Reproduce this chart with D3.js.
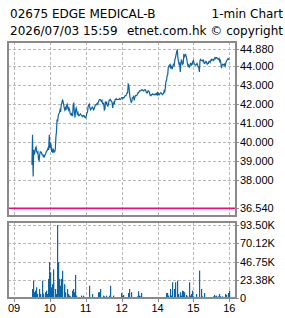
<!DOCTYPE html>
<html lang="en">
<head>
<meta charset="UTF-8">
<title>02675 1-min Chart</title>
<script src="https://d3js.org/d3.v7.min.js"></script>
<style>
    body { margin: 0; padding: 0; background: #fff; overflow: hidden; }
    svg { display: block; }
    text { font-family: "Liberation Sans", Arial, sans-serif; font-size: 11px; fill: #000; }
    .head { font-family: "DejaVu Sans", Verdana, sans-serif; font-size: 12px; }
</style>
</head>
<body>
<svg id="chart" width="285" height="318"></svg>
<script>
const titleLeft = "02675 EDGE MEDICAL-B";
const titleRight = "1-min Chart";
const stampLeft = "2026/07/03 15:59";
const stampRight = "etnet.com.hk \u00a9 copyright";

const prevClose = 36.54;

// 09:30 .. 12:00, one per minute
const amPrices = [
    38.82, 40.40, 38.20, 39.60, 39.35, 39.50, 39.70, 39.75, 39.50, 39.45,
    39.50, 39.10, 39.05, 39.35, 39.50, 39.50, 39.45, 39.35, 39.35, 39.25,
    39.30, 39.25, 39.35, 39.40, 39.50, 39.55, 39.60, 39.70, 39.60, 40.40,
    39.70, 40.00, 39.85, 39.50, 39.60, 39.45, 39.60, 39.50, 39.50, 39.60,
    40.25, 40.55, 41.20, 41.10, 41.40, 41.50, 41.55, 41.70, 41.60, 41.95,
    42.05, 42.25, 42.15, 42.00, 41.80, 41.70, 41.80, 41.70, 41.95, 42.00,
    41.80, 41.70, 41.80, 41.70, 41.50, 41.45, 41.50, 41.40, 41.40, 42.00,
    42.05, 41.55, 41.30, 41.70, 41.80, 41.65, 41.45, 41.55, 41.40, 41.40,
    41.45, 41.50, 41.45, 41.40, 41.40, 41.35, 41.40, 41.40, 41.35, 41.30,
    41.30, 41.40, 41.55, 41.60, 41.90, 41.95, 42.00, 41.80, 41.70, 41.75,
    41.80, 41.85, 41.80, 41.70, 41.75, 41.85, 41.95, 41.95, 42.00, 42.05,
    42.00, 42.10, 42.20, 42.25, 42.25, 42.20, 42.15, 42.20, 42.05, 42.00,
    42.05, 41.70, 41.75, 42.10, 42.05, 42.10, 41.95, 41.90, 42.00, 42.20,
    42.20, 42.25, 42.20, 42.15, 42.10, 41.80, 42.00, 42.10, 42.05, 42.25,
    42.25, 42.30, 42.25, 42.25, 42.25, 42.25, 42.30, 42.25, 42.25, 42.30,
    42.35
];

// 13:01 .. 16:00, one per minute
const pmPrices = [
    42.35, 42.30, 42.35, 42.35, 42.40, 42.45, 42.45, 42.50, 42.60, 42.60,
    43.05, 43.00, 42.65, 42.35, 42.20, 42.10, 42.15, 42.35, 42.35, 42.40,
    42.20, 42.35, 42.45, 42.45, 42.45, 42.50, 42.60, 42.60, 42.65, 42.70,
    42.70, 42.70, 42.75, 42.75, 42.75, 42.70, 42.70, 42.75, 42.75, 42.75,
    42.65, 42.60, 42.60, 42.70, 42.70, 42.65, 42.55, 42.45, 42.45, 42.50,
    42.50, 42.55, 42.50, 42.50, 42.50, 42.55, 42.50, 42.55, 42.50, 42.65,
    42.50, 42.55, 42.50, 42.55, 42.60, 42.60, 42.55, 42.50, 42.55, 42.55,
    42.70, 42.65, 42.85, 43.20, 43.25, 43.50, 43.55, 43.95, 44.00, 44.05,
    43.95, 44.05, 43.90, 43.95, 43.90, 44.05, 44.10, 44.05, 44.35, 44.45,
    44.60, 44.75, 44.88, 44.45, 44.25, 44.10, 44.15, 43.70, 44.10, 44.35,
    44.20, 44.10, 44.15, 44.65, 44.50, 44.55, 44.60, 44.50, 44.35, 44.15,
    44.00, 44.05, 43.95, 44.00, 44.15, 44.15, 44.05, 44.10, 44.25, 44.30,
    44.15, 44.10, 44.05, 44.05, 44.10, 44.15, 44.05, 43.95, 43.95, 43.70,
    44.30, 44.35, 44.30, 44.30, 44.30, 44.25, 44.30, 44.15, 44.15, 44.20,
    44.25, 44.20, 44.10, 44.15, 44.15, 44.25, 44.25, 44.20, 44.30, 44.35,
    44.30, 44.35, 44.35, 44.30, 44.40, 44.45, 44.40, 44.45, 44.45, 44.40,
    44.40, 44.35, 44.40, 44.25, 44.30, 44.15, 43.90, 44.05, 44.10, 44.10,
    44.05, 44.10, 44.00, 44.15, 44.25, 44.30, 44.35, 44.40, 44.35, 44.40
];

const volTimes = [
    "09:30","09:32","09:33","09:35","09:37","09:39","09:41","09:43","09:46","09:47",
    "09:49","09:51","09:53","09:56","09:57","09:58","09:59","10:01","10:02","10:03",
    "10:05","10:06","10:08","10:10","10:12","10:13","10:15","10:17","10:18","10:19",
    "10:21","10:23","10:24","10:26","10:28","10:30","10:32","10:34","10:37","10:39",
    "10:41","10:42","10:44","10:47","10:49","10:52","10:55","10:59","11:02","11:05",
    "11:07","11:10","11:12","11:14","11:17","11:20","11:22","11:23","11:26","11:28",
    "11:31","11:34","11:37","11:39","11:41","11:43","11:46","11:48","11:51","11:56",
    "11:59","13:01","13:03","13:05","13:10","13:13","13:15","13:17","13:20","13:23",
    "13:26","13:27","13:29","13:31","13:33","13:35","13:38","13:43","13:47","13:49",
    "13:54","13:58","14:01","14:03","14:12","14:14","14:15","14:17","14:19","14:21",
    "14:23","14:25","14:27","14:28","14:30","14:32","14:34","14:35","14:38","14:39",
    "14:41","14:43","14:44","14:47","14:49","14:52","14:54","14:56","14:58","15:00",
    "15:02","15:04","15:07","15:09","15:10","15:13","15:15","15:17","15:20","15:24",
    "15:28","15:32","15:34","15:36","15:38","15:41","15:42","15:45","15:47","15:50",
    "15:53","15:55","15:57","15:59"
];
const volumes = [
    11900, 22500, 7700, 9800, 14000, 5500, 11900, 5500, 7700, 22500,
    5500, 7700, 9800, 5500, 24700, 14000, 46000, 33000, 14000, 18000,
    20000, 37000, 11900, 5500, 93500, 46000, 24700, 16000, 18000, 24700,
    35000, 16000, 18000, 7700, 11900, 5500, 3400, 2500, 9800, 11900,
    7700, 29800, 3400, 1300, 1300, 3400, 3400, 1300, 1300, 16000,
    1300, 5500, 1300, 1300, 1300, 7700, 7700, 11900, 1300, 3400,
    2500, 3400, 1300, 3400, 16000, 1300, 3400, 1300, 1300, 1300,
    6800, 3400, 4300, 1300, 6800, 11900, 7700, 1300, 1300, 1300,
    2500, 9000, 3400, 2500, 6800, 1300, 1300, 1300, 1300, 1300,
    1300, 1300, 1300, 1300, 1300, 6800, 6800, 3400, 1300, 11900,
    3400, 20400, 3400, 11900, 20400, 22500, 3400, 5500, 7700, 3400,
    9800, 9000, 7700, 4300, 2500, 20400, 3400, 5500, 9800, 2500,
    1300, 5500, 1300, 35300, 1300, 11900, 2500, 6800, 1300, 1300,
    1300, 2500, 4300, 2500, 3400, 2500, 5500, 2500, 2500, 1300,
    5500, 4300, 6800, 9800
];

const hourTimes = ["09:00", "10:00", "11:00", "12:00", "14:00", "15:00", "16:00"];
const hourLabels = ["09", "10", "11", "12", "14", "15", "16"];
const priceTicks = [38, 39, 40, 41, 42, 43, 44, 44.88];
const priceTickLabels = ["38.000", "39.000", "40.000", "41.000", "42.000", "43.000", "44.000", "44.880"];
const volTicks = [0, 23375, 46750, 70125, 93500];
const volTickLabels = ["0", "23.38K", "46.75K", "70.12K", "93.50K"];

// minutes of trading since 09:30, lunch hour removed
function tradeMin(s) {
    const [h, m] = s.split(":").map(Number);
    const mins = h * 60 + m;
    return mins <= 720 ? mins - 570 : mins - 630;
}
function pad(n) { return (n < 10 ? "0" : "") + n; }

const prices = [];
amPrices.forEach((p, i) => {
    const mm = 570 + i;
    prices.push({time: pad(Math.floor(mm / 60)) + ":" + pad(mm % 60), price: p});
});
pmPrices.forEach((p, i) => {
    const mm = 781 + i;
    prices.push({time: pad(Math.floor(mm / 60)) + ":" + pad(mm % 60), price: p});
});
const vols = volTimes.map((t, i) => ({time: t, vol: volumes[i]}));

const svg = d3.select("#chart");
const blue = "#0b64a6";
const frame = "#8a8a8a";
const grid = "#b8b8b8";

const priceBox = {x: 8, y: 42, w: 228, h: 174};
const volBox = {x: 8, y: 222, w: 228, h: 76};

const x = d3.scaleLinear().domain([tradeMin("09:00"), tradeMin("16:00")]).range([14, 229.3]);
const yP = d3.scaleLinear()
    .domain([prevClose, d3.max(prices, d => d.price)])
    .range([208.2, 49.4]);
const yV = d3.scaleLinear().domain([0, d3.max(volumes)]).range([298.3, 225]);

const crisp = v => Math.round(v) + 0.5;

// header
svg.append("text").attr("class", "head").attr("x", 10).attr("y", 18).text(titleLeft);
svg.append("text").attr("class", "head").attr("x", 283).attr("y", 18).attr("text-anchor", "end").text(titleRight);
svg.append("text").attr("class", "head").attr("x", 10).attr("y", 35).text(stampLeft);
svg.append("text").attr("class", "head").attr("x", 283).attr("y", 35).attr("text-anchor", "end").text(stampRight);

function gridLayer(box, yTicks, yScale) {
    const g = svg.append("g")
        .attr("stroke", grid)
        .attr("stroke-width", 1)
        .attr("stroke-dasharray", "3,2");
    g.selectAll(".v").data(hourTimes).enter().append("line")
        .attr("x1", d => crisp(x(tradeMin(d))))
        .attr("x2", d => crisp(x(tradeMin(d))))
        .attr("y1", box.y)
        .attr("y2", box.y + box.h);
    g.selectAll(".h").data(yTicks).enter().append("line")
        .attr("x1", box.x)
        .attr("x2", box.x + box.w)
        .attr("y1", d => crisp(yScale(d)))
        .attr("y2", d => crisp(yScale(d)));
}

gridLayer(priceBox, priceTicks, yP);
gridLayer(volBox, volTicks.slice(1), yV);

// previous close
svg.append("line")
    .attr("x1", priceBox.x).attr("x2", priceBox.x + priceBox.w)
    .attr("y1", yP(prevClose)).attr("y2", yP(prevClose))
    .attr("stroke", "#ff0080")
    .attr("stroke-width", 1.5);

// price line
const line = d3.line()
    .x(d => x(tradeMin(d.time)))
    .y(d => yP(d.price));

svg.append("path")
    .datum(prices)
    .attr("fill", "none")
    .attr("stroke", blue)
    .attr("stroke-width", 1.2)
    .attr("d", line);

// volume bars
svg.append("g").selectAll("rect").data(vols).enter().append("rect")
    .attr("x", d => Math.round(x(tradeMin(d.time))))
    .attr("width", 1.2)
    .attr("y", d => Math.min(yV(d.vol), 297))
    .attr("height", d => 298.3 - Math.min(yV(d.vol), 297))
    .attr("fill", blue);

// frames
[priceBox, volBox].forEach(b => {
    svg.append("rect")
        .attr("x", b.x).attr("y", b.y)
        .attr("width", b.w).attr("height", b.h)
        .attr("fill", "none")
        .attr("stroke", frame)
        .attr("stroke-width", 2);
});

// right axis: price
const pTicks = priceTicks.map((v, i) => ({y: yP(v), label: priceTickLabels[i]}))
    .concat([{y: yP(prevClose), label: prevClose.toFixed(3)}]);
const pAxis = svg.append("g");
pAxis.selectAll("line").data(pTicks).enter().append("line")
    .attr("x1", 236).attr("x2", 239)
    .attr("y1", d => crisp(d.y)).attr("y2", d => crisp(d.y))
    .attr("stroke", frame);
pAxis.selectAll("text").data(pTicks).enter().append("text")
    .attr("x", 240).attr("y", d => d.y).attr("dy", "0.35em")
    .text(d => d.label);

// right axis: volume
const vAxis = svg.append("g");
vAxis.selectAll("line").data(volTicks).enter().append("line")
    .attr("x1", 236).attr("x2", 239)
    .attr("y1", d => crisp(yV(d))).attr("y2", d => crisp(yV(d)))
    .attr("stroke", frame);
vAxis.selectAll("text").data(volTicks).enter().append("text")
    .attr("x", 240)
    .attr("y", d => Math.max(yV(d), volBox.y + 1))
    .attr("dy", "0.35em")
    .text((d, i) => volTickLabels[i]);

// bottom axis
const xAxis = svg.append("g");
xAxis.selectAll("line").data(hourTimes).enter().append("line")
    .attr("x1", d => crisp(x(tradeMin(d)))).attr("x2", d => crisp(x(tradeMin(d))))
    .attr("y1", 299).attr("y2", 302)
    .attr("stroke", frame);
xAxis.selectAll("text").data(hourTimes).enter().append("text")
    .attr("x", d => x(tradeMin(d)))
    .attr("y", 312)
    .attr("text-anchor", "middle")
    .text((d, i) => hourLabels[i]);
</script>
</body>
</html>
